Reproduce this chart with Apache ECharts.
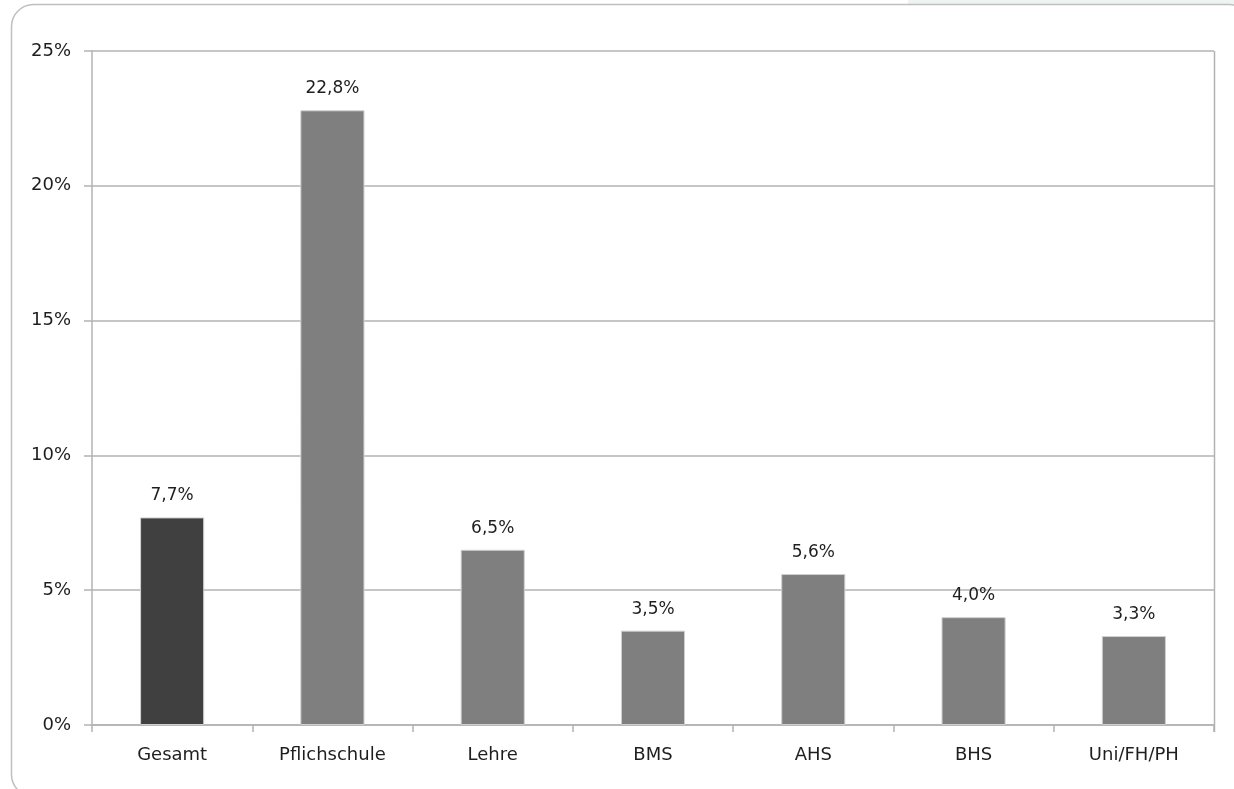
<!DOCTYPE html>
<html>
<head>
<meta charset="utf-8">
<script src="https://cdn.jsdelivr.net/npm/echarts@6/dist/echarts.min.js"></script>
<style>
  html, body { margin: 0; padding: 0; background: #ffffff; }
  #chart { width: 1234px; height: 789px; }
</style>
</head>
<body>
<div id="chart"></div>
<script>
// Anteil nach höchster abgeschlossener Ausbildung (in %)
const categories = ['Gesamt', 'Pflichschule', 'Lehre', 'BMS', 'AHS', 'BHS', 'Uni/FH/PH'];
const values = [7.7, 22.8, 6.5, 3.5, 5.6, 4.0, 3.3];
const highlightCategory = 'Gesamt';

const fontFamily = '"DejaVu Sans", "Noto Sans", sans-serif';
const textColor = '#1e1e1e';
const lineColor = '#b3b3b3';

const chart = echarts.init(document.getElementById('chart'), null, { renderer: 'canvas' });

chart.setOption({
  animation: false,
  backgroundColor: '#ffffff',
  textStyle: { fontFamily: fontFamily },
  graphic: [
    {
      type: 'rect',
      shape: { x: 908, y: 0, width: 326, height: 4 },
      style: { fill: '#eef3f4' },
      silent: true,
      z: -10
    },
    {
      // rounded outer frame
      type: 'rect',
      shape: { x: 11.5, y: 4.5, width: 1240, height: 792, r: 22 },
      style: { fill: '#ffffff', stroke: '#bfbfbf', lineWidth: 1.5 },
      silent: true,
      z: -5
    },
    {
      // right edge of the plot area
      type: 'line',
      shape: { x1: 1214.5, y1: 51, x2: 1214.5, y2: 732 },
      style: { stroke: lineColor, lineWidth: 1.5 },
      silent: true,
      z: 5
    }
  ],
  grid: {
    left: 92,
    right: 20,
    top: 51,
    bottom: 64,
    containLabel: false
  },
  xAxis: {
    type: 'category',
    data: categories,
    axisLine: { show: true, lineStyle: { color: lineColor, width: 1.5 } },
    axisTick: { show: true, length: 7, alignWithLabel: false, lineStyle: { color: lineColor, width: 1.5 } },
    axisLabel: { color: textColor, fontSize: 18, margin: 21, fontFamily: fontFamily }
  },
  yAxis: {
    type: 'value',
    min: 0,
    max: 25,
    interval: 5,
    axisLine: { show: true, lineStyle: { color: lineColor, width: 1.5 } },
    axisTick: { show: true, length: 8, lineStyle: { color: lineColor, width: 1.5 } },
    splitLine: { show: true, lineStyle: { color: lineColor, width: 1.5 } },
    axisLabel: {
      color: textColor,
      fontSize: 18,
      margin: 21,
      fontFamily: fontFamily,
      formatter: v => v + '%'
    }
  },
  series: [
    {
      type: 'bar',
      data: values.map((v, i) => ({
        value: v,
        itemStyle: { color: categories[i] === highlightCategory ? '#404040' : '#7f7f7f' }
      })),
      barWidth: '40%',
      itemStyle: { borderColor: '#d0d0d0', borderWidth: 1 },
      label: {
        show: true,
        position: 'top',
        distance: 13,
        color: textColor,
        fontSize: 17,
        fontFamily: fontFamily,
        formatter: p => p.value.toFixed(1).replace('.', ',') + '%'
      }
    }
  ]
});
</script>
</body>
</html>
